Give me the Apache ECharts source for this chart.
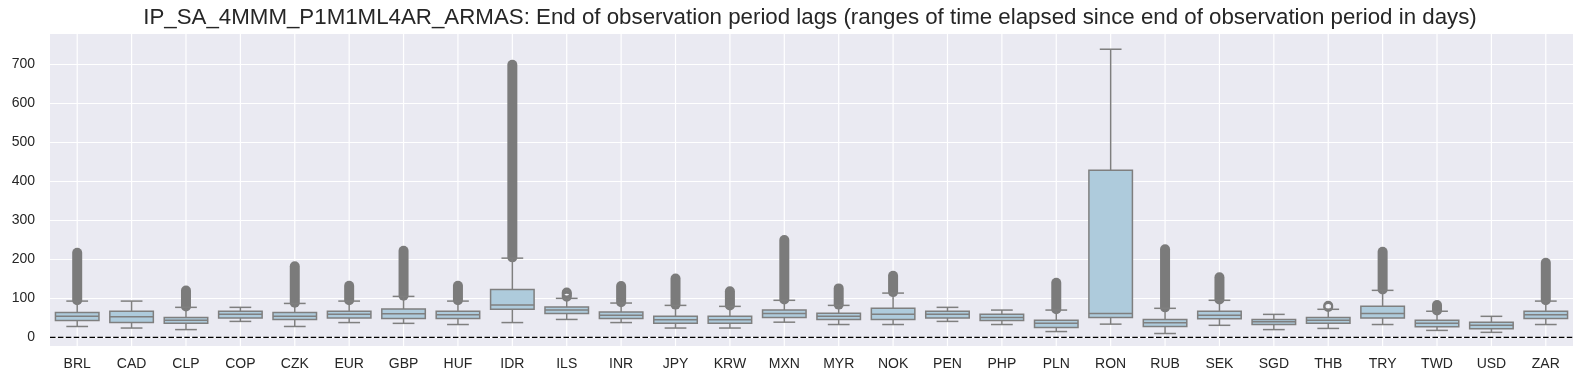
<!DOCTYPE html>
<html>
<head>
<meta charset="utf-8">
<script src="https://cdn.jsdelivr.net/npm/echarts@6/dist/echarts.min.js"></script>
<style>
html,body{margin:0;padding:0;background:#fff;}
#chart{width:1584px;height:384px;}
</style>
</head>
<body>
<div id="chart"></div>
<script>
const TITLE = 'IP_SA_4MMM_P1M1ML4AR_ARMAS: End of observation period lags (ranges of time elapsed since end of observation period in days)';
const categories = ['BRL','CAD','CLP','COP','CZK','EUR','GBP','HUF','IDR','ILS','INR','JPY','KRW','MXN','MYR','NOK','PEN','PHP','PLN','RON','RUB','SEK','SGD','THB','TRY','TWD','USD','ZAR'];
const whiskerLow  = [28, 24, 20, 41, 28, 38, 36, 33, 38, 46, 38, 24, 24, 39, 33, 33, 41, 33, 15, 34, 10, 31, 20, 23, 33, 18, 13, 33];
const q1          = [43.5, 38.5, 36, 50, 46, 50, 48.5, 48.5, 72, 61.5, 48.5, 36, 36, 51, 46, 46, 50, 43.5, 25.5, 51, 28, 48, 33, 36, 50, 27, 22, 48.5];
const median      = [54, 53, 44, 59, 54.5, 59, 60.5, 58, 83, 70, 57, 45, 45, 61.5, 54.5, 59, 59, 51, 36, 61.5, 37.5, 57, 40, 44, 61.5, 36, 31, 58];
const q3          = [64, 67, 51, 67, 64, 67, 72.5, 67, 123, 78, 65, 54, 54, 70, 62, 74.5, 67, 59, 44, 428, 46, 67, 46, 51, 80, 44, 39, 67];
const whiskerHigh = [93, 93, 77, 77, 87, 93, 105, 93, 203, 100, 88, 82, 79.5, 95, 82, 113.5, 77, 70, 70, 738, 74.5, 95, 59, 72, 120.5, 67, 54, 93];
// dense outlier runs (lowest and highest outlier), null = none
const outlierLow  = [95, null, 79, null, 89, 95, 107, 95, 205, null, 90, 84, 82, 97, 84, 116, null, null, 72, null, 77, 97, null, null, 123, 69, null, 95];
const outlierHigh = [217, null, 120, null, 182, 132, 222, 132, 698, null, 131.5, 151, 118, 249.5, 125.5, 158, null, null, 140, null, 225.5, 154, null, null, 219.5, 83, null, 191];
// sparse outliers drawn as single points
const sparseOutliers = {ILS: [104, 108, 112, 115], THB: [78, 81]};
const yTicks = [0, 100, 200, 300, 400, 500, 600, 700];
const Y_MIN = -22, Y_MAX = 777;
const ZERO_LINE = 0;

const BOX_FILL = '#aecbdc';
const LINE = '#7f7f7f';
const FLIER = '#7b7b7b';

const boxData = categories.map((c, i) => [i, whiskerLow[i], q1[i], median[i], q3[i], whiskerHigh[i]]);
const bandData = [];
categories.forEach((c, i) => { if (outlierLow[i] != null) bandData.push([i, outlierLow[i], outlierHigh[i]]); });
const pointData = [];
Object.keys(sparseOutliers).forEach(c => { const i = categories.indexOf(c); sparseOutliers[c].forEach(v => pointData.push([i, v])); });

function renderBox(params, api) {
  const i = api.value(0);
  const lo = api.coord([i, api.value(1)]);
  const a = api.coord([i, api.value(2)]);
  const m = api.coord([i, api.value(3)]);
  const b = api.coord([i, api.value(4)]);
  const hi = api.coord([i, api.value(5)]);
  const band = api.size([1, 0])[0];
  const bw = band * 0.8, cw = band * 0.4, x = lo[0];
  const ls = {stroke: LINE, lineWidth: 1.5, fill: null};
  return {type: 'group', children: [
    {type: 'line', shape: {x1: x, y1: a[1], x2: x, y2: lo[1]}, style: ls},
    {type: 'line', shape: {x1: x, y1: b[1], x2: x, y2: hi[1]}, style: ls},
    {type: 'line', shape: {x1: x - cw / 2, y1: lo[1], x2: x + cw / 2, y2: lo[1]}, style: ls},
    {type: 'line', shape: {x1: x - cw / 2, y1: hi[1], x2: x + cw / 2, y2: hi[1]}, style: ls},
    {type: 'rect', shape: {x: x - bw / 2, y: b[1], width: bw, height: a[1] - b[1]}, style: {fill: BOX_FILL, stroke: LINE, lineWidth: 1.5}},
    {type: 'line', shape: {x1: x - bw / 2, y1: m[1], x2: x + bw / 2, y2: m[1]}, style: ls}
  ]};
}
function renderBand(params, api) {
  const i = api.value(0);
  const p1 = api.coord([i, api.value(1)]);
  const p2 = api.coord([i, api.value(2)]);
  return {type: 'line', shape: {x1: p1[0], y1: p1[1], x2: p2[0], y2: p2[1]},
    style: {stroke: FLIER, lineWidth: 10, lineCap: 'round', fill: null}};
}
function renderPoint(params, api) {
  const p = api.coord([api.value(0), api.value(1)]);
  return {type: 'circle', shape: {cx: p[0], cy: p[1], r: 4}, style: {fill: null, stroke: FLIER, lineWidth: 2}};
}
function renderVGrid(params, api) {
  const x = api.coord([api.value(0), 0])[0];
  const cs = params.coordSys;
  return {type: 'line', shape: {x1: x, y1: cs.y, x2: x, y2: cs.y + cs.height}, style: {stroke: '#ffffff', lineWidth: 1.2}};
}
function renderZero(params, api) {
  const y = api.coord([0, api.value(1)])[1];
  const cs = params.coordSys;
  return {type: 'line', shape: {x1: cs.x, y1: y, x2: cs.x + cs.width, y2: y},
    style: {stroke: '#000000', lineWidth: 1.3, lineDash: [5.5, 2.4], fill: null}};
}

const chart = echarts.init(document.getElementById('chart'), null, {renderer: 'canvas'});
chart.setOption({
  animation: false,
  backgroundColor: '#ffffff',
  textStyle: {fontFamily: '"Liberation Sans", Arial, sans-serif'},
  title: {
    text: TITLE, left: 805, top: 2, textAlign: 'center',
    textStyle: {fontSize: 22.3, fontWeight: 'normal', color: '#262626', fontFamily: '"Liberation Sans", Arial, sans-serif'}
  },
  grid: {left: 50, right: 11, top: 34, bottom: 38, show: true, backgroundColor: '#eaeaf2', borderWidth: 0},
  xAxis: {
    type: 'category', data: categories,
    axisLine: {show: false}, axisTick: {show: false}, splitLine: {show: false},
    axisLabel: {fontSize: 14, color: '#262626', margin: 11, interval: 0}
  },
  yAxis: {
    type: 'value', min: Y_MIN, max: Y_MAX, splitNumber: 8,
    axisLine: {show: false}, axisTick: {show: false},
    axisLabel: {fontSize: 14, color: '#262626', margin: 15, showMinLabel: false, showMaxLabel: false,
      formatter: v => yTicks.indexOf(v) >= 0 ? String(v) : ''},
    splitLine: {show: true, showMinLine: false, showMaxLine: false, lineStyle: {color: '#ffffff', width: 1.2}}
  },
  series: [
    {type: 'custom', name: 'vgrid', z: 1, silent: true, renderItem: renderVGrid, data: categories.map((c, i) => [i]), encode: {x: 0}},
    {type: 'custom', name: 'zero', z: 2, silent: true, renderItem: renderZero, data: [[0, ZERO_LINE]], encode: {x: 0, y: 1}},
    {type: 'custom', name: 'fliersBand', z: 3, renderItem: renderBand, data: bandData, encode: {x: 0, y: [1, 2]}},
    {type: 'custom', name: 'fliersPoint', z: 3, renderItem: renderPoint, data: pointData, encode: {x: 0, y: 1}},
    {type: 'custom', name: 'boxes', z: 4, renderItem: renderBox, data: boxData, encode: {x: 0, y: [1, 2, 3, 4, 5]}}
  ]
});
</script>
</body>
</html>
